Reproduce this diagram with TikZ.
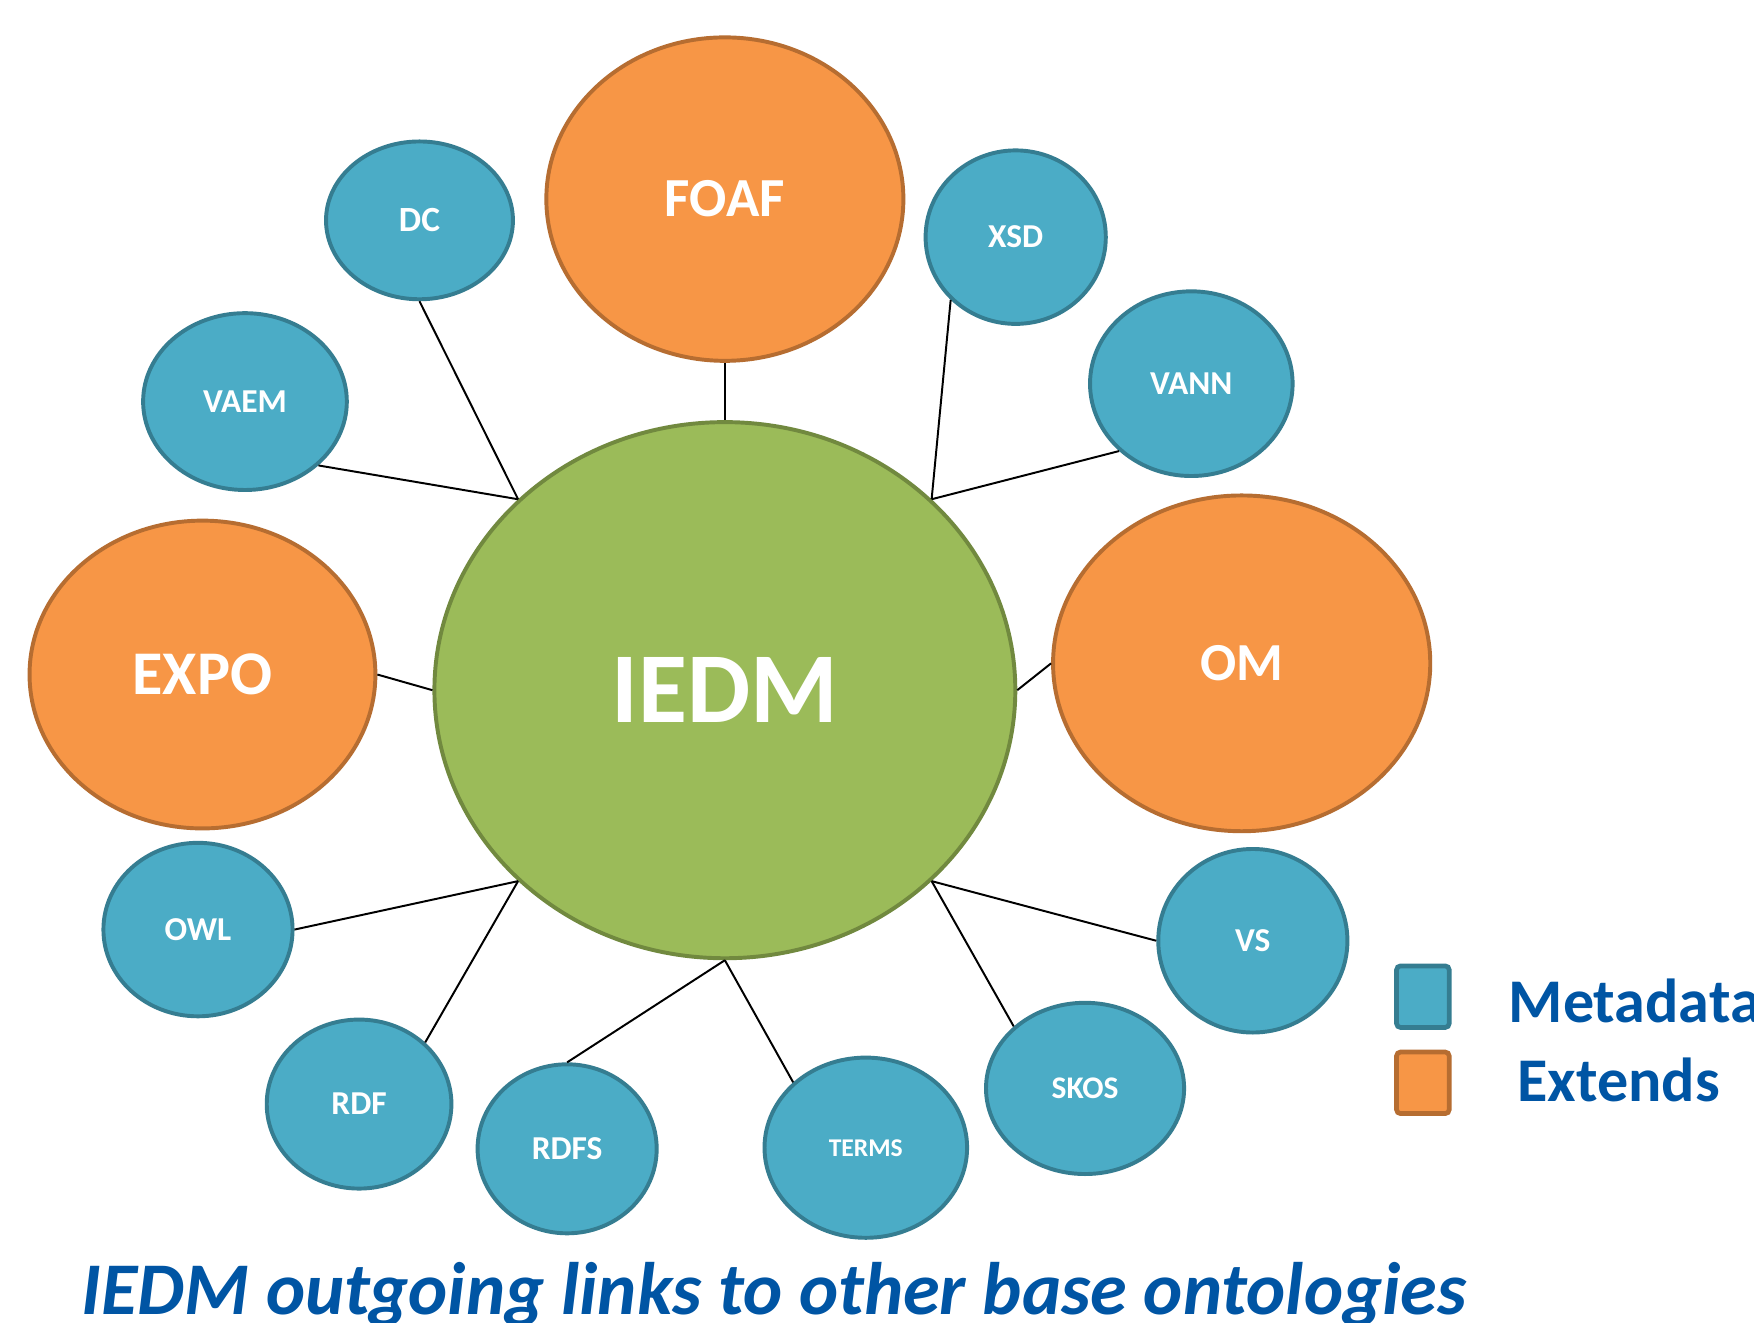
\documentclass[tikz,border=0pt]{standalone}
\usepackage{fontspec}
\setmainfont{Carlito}
\usepackage{tikz}
\usepackage{xcolor}
\usetikzlibrary{shapes.geometric}
\definecolor{metafill}{HTML}{4BACC6}
\definecolor{metaborder}{HTML}{357D91}
\definecolor{extfill}{HTML}{F79646}
\definecolor{extborder}{HTML}{B66D31}
\definecolor{corefill}{HTML}{9BBB59}
\definecolor{coreborder}{HTML}{71893F}
\definecolor{capblue}{HTML}{0055A4}
\tikzstyle{onto} = [ellipse, inner sep=0pt, line width=1pt, text=white, font=\bfseries\fontsize{8.5}{10}\selectfont]
\tikzstyle{meta} = [onto, draw=metaborder, fill=metafill]
\tikzstyle{ext} = [onto, draw=extborder, fill=extfill]
\tikzstyle{core} = [onto, draw=coreborder, fill=corefill, font=\bfseries\fontsize{25.5}{30}\selectfont]
\tikzstyle{link} = [line width=0.5pt, black]
\tikzstyle{legendbox} = [rectangle, rounded corners=1pt, line width=1.2pt, minimum width=0.47cm, minimum height=0.55cm]
\tikzstyle{legendtext} = [anchor=base west, inner sep=0pt, text=capblue, font=\bfseries\fontsize{15.8}{18}\selectfont]

\begin{document}
\begin{tikzpicture}[x=0.01cm, y=-0.01cm]
\clip (0,0) rectangle (1568,1182);
\fill[white] (0,0) rectangle (1568,1182);

% Nodes
\node (IEDM) [core, minimum width=5.19cm, minimum height=4.79cm] at (648,617) {IEDM}; % centre
\node (FOAF) [ext, minimum width=3.19cm, minimum height=2.89cm, font=\bfseries\fontsize{14}{18}\selectfont] at (648,178) {FOAF};
\node (EXPO) [ext, minimum width=3.09cm, minimum height=2.75cm, font=\bfseries\fontsize{15.8}{18}\selectfont] at (181,603) {EXPO};
\node (OM) [ext, minimum width=3.37cm, minimum height=3.00cm, font=\bfseries\fontsize{13.6}{16}\selectfont] at (1110,593) {OM};
\node (DC) [meta, minimum width=1.67cm, minimum height=1.41cm, font=\bfseries\fontsize{9}{10}\selectfont] at (375,197) {DC};
\node (XSD) [meta, minimum width=1.61cm, minimum height=1.55cm] at (908,212) {XSD};
\node (VAEM) [meta, minimum width=1.82cm, minimum height=1.58cm] at (219,359) {VAEM};
\node (VANN) [meta, minimum width=1.81cm, minimum height=1.65cm] at (1065,343) {VANN};
\node (OWL) [meta, minimum width=1.69cm, minimum height=1.55cm] at (177,831) {OWL};
\node (VS) [meta, minimum width=1.69cm, minimum height=1.64cm] at (1120,841) {VS};
\node (RDF) [meta, minimum width=1.65cm, minimum height=1.51cm] at (321,987) {RDF};
\node (RDFS) [meta, minimum width=1.60cm, minimum height=1.51cm] at (507,1027) {RDFS};
\node (TERMS) [meta, minimum width=1.81cm, minimum height=1.61cm, font=\bfseries\fontsize{6.5}{8}\selectfont] at (774,1026) {TERMS};
\node (SKOS) [meta, minimum width=1.77cm, minimum height=1.53cm, font=\bfseries\fontsize{8}{10}\selectfont] at (970,973) {SKOS};

% Links
\draw [link] (DC.south) -- (IEDM.north west);
\draw [link] (VAEM.-41) -- (IEDM.north west);
\draw [link] (FOAF.south) -- (IEDM.north);
\draw [link] (XSD.-136) -- (IEDM.north east);
\draw [link] (VANN.-137) -- (IEDM.north east);
\draw [link] (EXPO.east) -- (IEDM.west);
\draw [link] (OM.west) -- (IEDM.east);
\draw [link] (OWL.east) -- (IEDM.south west);
\draw [link] (RDF.43) -- (IEDM.south west);
\draw [link] (RDFS.north) -- (IEDM.south);
\draw [link] (TERMS.138) -- (IEDM.south);
\draw [link] (SKOS.139) -- (IEDM.south east);
\draw [link] (VS.west) -- (IEDM.south east);

% Legend
\node (metakey) [legendbox, draw=metaborder, fill=metafill] at (1272,891) {};
\node (extkey) [legendbox, draw=extborder, fill=extfill] at (1272,968) {};
\node (metalabel) [legendtext] at (1348,914) {Metadata};
\node (extlabel) [legendtext] at (1356,985) {Extends};

% Caption
\node (caption) [anchor=base west, inner sep=0pt, text=capblue, font=\bfseries\itshape\fontsize{18.9}{22}\selectfont] at (72,1175) {IEDM outgoing links to other base ontologies};

\end{tikzpicture}
\end{document}
